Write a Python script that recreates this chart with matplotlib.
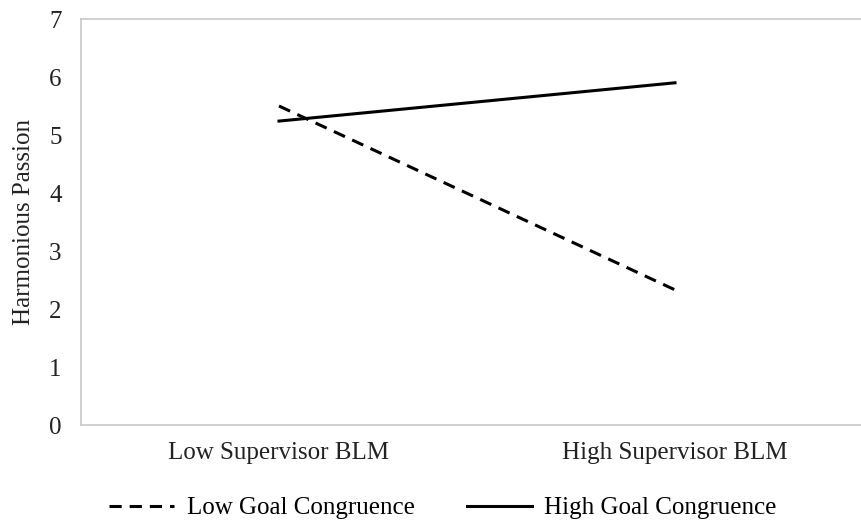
import matplotlib.pyplot as plt
from matplotlib.lines import Line2D

# Данные
categories = ['Low Supervisor BLM', 'High Supervisor BLM']
low_goal = [5.50, 2.33]
high_goal = [5.24, 5.90]
yticks = [0, 1, 2, 3, 4, 5, 6, 7]

plt.rcParams['font.family'] = ['Liberation Serif', 'DejaVu Serif']
fs = 18

fig = plt.figure(figsize=(8.61, 5.22), dpi=100)
ax = fig.add_axes([81 / 861, 1 - 425 / 522, 792 / 861, 406 / 522])

x = list(range(len(categories)))
ax.plot(x, low_goal, color='black', lw=2.2, dashes=(4, 2.6))
ax.plot(x, high_goal, color='black', lw=2.2)

ax.set_xlim(-0.5, 1.5)
ax.set_ylim(0, 7)
ax.set_yticks(yticks)
ax.set_xticks(x)
ax.set_xticklabels(categories)
ax.tick_params(length=0, labelsize=fs, colors='#222222')
ax.tick_params(axis='y', pad=14)
ax.tick_params(axis='x', pad=12)
for side in ['left', 'top', 'bottom', 'right']:
    ax.spines[side].set_color('#c8c8c8')
    ax.spines[side].set_linewidth(1.2)

ax.set_ylabel('Harmonious Passion', fontsize=fs, color='#222222', labelpad=10)

handles = [
    Line2D([], [], color='black', lw=2.2, dashes=(4, 2.6)),
    Line2D([], [], color='black', lw=2.2),
]
fig.legend(handles, ['Low Goal Congruence', 'High Goal Congruence'],
           loc='center', bbox_to_anchor=(443 / 861, 1 - 508 / 522), ncol=2,
           frameon=False, fontsize=fs, handlelength=2.6, handletextpad=0.5,
           columnspacing=2.1)

fig.savefig('out.png', dpi=100)
